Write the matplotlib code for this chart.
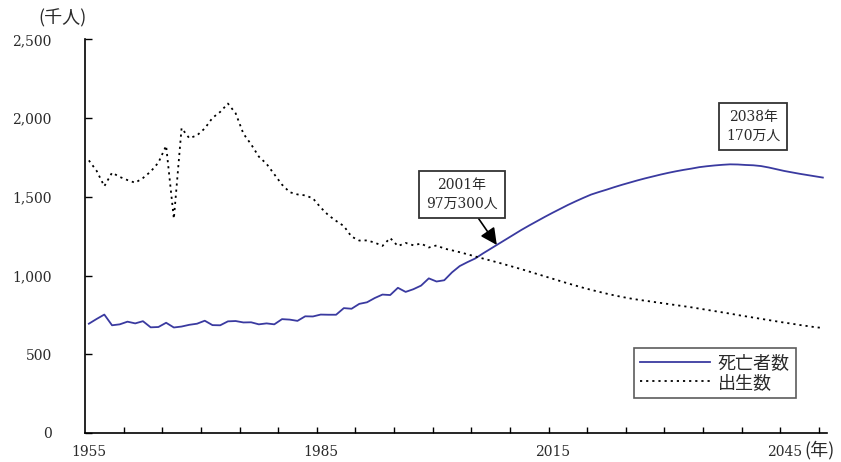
import matplotlib
matplotlib.use("Agg")
import matplotlib.pyplot as plt
from matplotlib.ticker import FixedLocator, FuncFormatter

years = list(range(1955, 2051))

deaths = [
    694, 724, 752, 684, 690, 707, 696, 710, 671, 673,
    700, 670, 676, 687, 694, 713, 685, 684, 709, 711,
    702, 703, 690, 696, 690, 723, 720, 712, 741, 740,
    752, 751, 751, 793, 789, 820, 830, 857, 879, 876,
    922, 896, 913, 936, 982, 962, 970,
    1020, 1060, 1085, 1108, 1140, 1170, 1200, 1230, 1260,
    1290, 1318, 1345, 1372, 1398, 1423, 1448, 1471, 1493, 1514,
    1530, 1545, 1561, 1576, 1590, 1604, 1617, 1629, 1641, 1652,
    1662, 1671, 1679, 1688, 1694, 1699, 1703, 1706, 1705, 1702,
    1700, 1695, 1686, 1675, 1664, 1655, 1646, 1638, 1630, 1622,
]

births = [
    1731, 1665, 1567, 1653, 1626, 1606, 1589, 1619, 1660, 1717,
    1824, 1361, 1936, 1872, 1890, 1934, 2001, 2039, 2092, 2030,
    1901, 1833, 1755, 1709, 1643, 1577, 1529, 1515, 1509, 1490,
    1432, 1383, 1347, 1314, 1247, 1222, 1223, 1209, 1188, 1238,
    1187, 1207, 1192, 1203, 1178, 1191, 1171,
    1160, 1148, 1135, 1121, 1108, 1095, 1082, 1068, 1054,
    1040, 1025, 1010, 995, 980, 965, 950, 936, 922, 909,
    897, 885, 874, 864, 855, 847, 840, 833, 826, 819,
    812, 805, 798, 790, 782, 774, 766, 758, 749, 741,
    733, 725, 717, 709, 701, 694, 686, 679, 672, 667,
]

x_labels = [1955, 1985, 2015, 2045]
y_ticks = [0, 500, 1000, 1500, 2000, 2500]

SERIF = ["DejaVu Serif", "Noto Sans CJK JP"]
CJK = ["Noto Sans CJK JP", "DejaVu Sans"]
TXT = "#2a2a2a"

fig = plt.figure(figsize=(8.41, 4.62), dpi=100)
ax = fig.add_axes([85 / 841, 1 - 433 / 462, (826.7 - 85) / 841, (433 - 39.3) / 462])

ax.plot(years, deaths, color="#3a3aa0", lw=1.3, label="死亡者数")
ax.plot(years, births, color="black", lw=1.3, ls=(0, (1.2, 2.2)), label="出生数")

ax.set_xlim(1954.5, 2050.5)
ax.set_ylim(0, 2500)

for s in ["top", "right"]:
    ax.spines[s].set_visible(False)
for s in ["left", "bottom"]:
    ax.spines[s].set_linewidth(1.2)
    ax.spines[s].set_color("black")

ax.set_xticks(x_labels)
ax.set_xticklabels([str(v) for v in x_labels], fontfamily=SERIF, fontsize=10, color=TXT)
ax.xaxis.set_minor_locator(FixedLocator([1959.5 + 5 * k for k in range(19)]))
ax.tick_params(axis="x", which="major", length=0, pad=9)
ax.tick_params(axis="x", which="minor", direction="in", length=4, width=1)

ax.set_yticks(y_ticks)
ax.yaxis.set_major_formatter(FuncFormatter(lambda v, p: f"{int(v):,}"))
for lab in ax.get_yticklabels():
    lab.set_fontfamily(SERIF)
    lab.set_fontsize(10)
    lab.set_color(TXT)
ax.tick_params(axis="y", direction="in", length=5, width=1, pad=24)

fig.text(63 / 841, 1 - 18 / 462, "(千人)", fontfamily=CJK, fontsize=13, color=TXT,
         ha="center", va="center")
fig.text(820 / 841, 1 - 450 / 462, "(年)", fontfamily=CJK, fontsize=13, color=TXT,
         ha="center", va="center")

bbox = dict(boxstyle="square,pad=0.5", fc="white", ec="#333333", lw=1.3)
ax.annotate("2038年\n170万人", xy=(2038, 1706), xytext=(2041.0, 1946),
            ha="center", va="center", fontfamily=SERIF, fontsize=10, color=TXT,
            bbox=bbox, linespacing=1.45)
ax.annotate("2001年\n97万300人", xy=(2007.8, 1194), xytext=(2003.3, 1514),
            ha="center", va="center", fontfamily=SERIF, fontsize=10, color=TXT,
            bbox=bbox, linespacing=1.45,
            arrowprops=dict(arrowstyle="-|>,head_length=1.0,head_width=0.5",
                            color="black", lw=1.2, shrinkA=0, shrinkB=0))

leg = ax.legend(loc="lower right",
                bbox_to_anchor=((796 - 85) / (826.7 - 85), (433 - 398) / (433 - 39.3)),
                bbox_transform=ax.transAxes, borderaxespad=0,
                prop={"family": CJK, "size": 13}, frameon=True, fancybox=False,
                edgecolor="#333333", handlelength=3.9, borderpad=0.35,
                labelspacing=0.1, handletextpad=0.4)
leg.get_frame().set_linewidth(1.2)
for t in leg.get_texts():
    t.set_color(TXT)

fig.savefig("out.png", dpi=100)
